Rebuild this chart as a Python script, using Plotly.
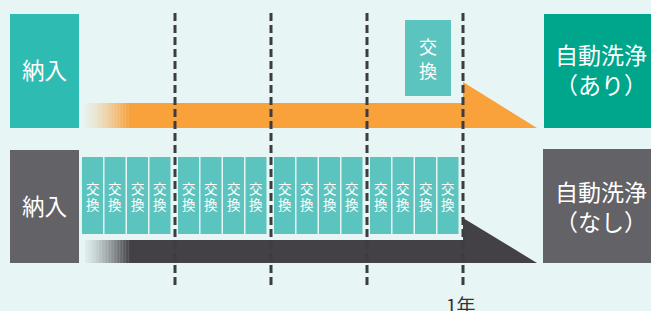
import plotly.graph_objects as go

# ---- data ----
guide_months = [3, 6, 9, 12]            # dashed guide lines (quarters)
guide_labels = ["", "", "", "1年"]
swaps_per_quarter_without = [4, 4, 4, 4]   # filter swaps without auto-clean
swap_month_with = [12]                   # single swap at 1 year with auto-clean
start_label = "納入"
swap_label = ["交", "換"]
row_labels = ["自動洗浄<br>（あり）", "自動洗浄<br>（なし）"]

# ---- style ----
BG = "#E7F5F5"
TEAL = "#2EBCB2"
GREEN = "#00A68B"
SWAP = "#5CC4BE"
ORANGE = "#F9A13A"
GRAY = "#636266"
DARK = "#434146"
LINE = "#3C3C41"
FONT = "Noto Sans CJK JP"

PX0, PXM = 79, 32.0   # pixel of month 0, pixels per month
def mx(px):
    return (px - PX0) / PXM

shapes = []
ann = []

def rect(x0, x1, y0, y1, color, layer="above"):
    shapes.append(dict(type="rect", xref="x", yref="y", x0=x0, x1=x1, y0=y0, y1=y1,
                       fillcolor=color, line=dict(width=0), layer=layer))

def text(x, y, t, size, color="white"):
    ann.append(dict(x=x, y=y, xref="x", yref="y", text=t, showarrow=False,
                    font=dict(family=FONT, size=size, color=color),
                    xanchor="center", yanchor="middle", borderpad=0))

def hexrgb(h):
    h = h.lstrip("#")
    return tuple(int(h[i:i + 2], 16) for i in (0, 2, 4))

def mix(a, b, t):
    ca, cb = hexrgb(a), hexrgb(b)
    return "rgb(%d,%d,%d)" % tuple(round(ca[i] + (cb[i] - ca[i]) * t) for i in range(3))

def bar(y0, y1, y_tri, color):
    end = guide_months[-1]
    g0, g1 = 85, 130
    n = 30
    for i in range(n):
        a = g0 + (g1 - g0) * i / n
        b = g0 + (g1 - g0) * (i + 1) / n + 0.3
        t = ((i + 0.5) / n) ** 1.3
        rect(mx(a), mx(b), y0, y1, mix(BG, color, 0.05 + 0.95 * t))
    rect(mx(g1), end, y0, y1, color)
    tip = mx(537)
    shapes.append(dict(type="path", xref="x", yref="y",
                       path=f"M {end},{y_tri} L {tip},{y1} L {end},{y1} Z",
                       fillcolor=color, line=dict(width=0)))

# top row (with auto-clean)
rect(mx(10), 0, 14, 128, TEAL)
text(mx(44.5), 69, start_label, 22.5)
bar(103, 128, 82, ORANGE)
for m in swap_month_with:
    x0, x1 = m - mx(463) + mx(405), m - mx(463) + mx(451)
    rect(x0, x1, 20, 96, SWAP)
    text((x0 + x1) / 2, 46, swap_label[0], 18)
    text((x0 + x1) / 2, 70, swap_label[1], 18)
rect(mx(544), mx(660), 14, 128, GREEN)
text(mx(601), 69, row_labels[0], 23)

# bottom row (without auto-clean)
rect(mx(10), 0, 150, 263, GRAY)
text(mx(44.5), 205, start_label, 22.5)
bar(240, 263, 218, DARK)
step = mx(PX0 + 22.5) - mx(PX0)
w = 21 / PXM
for qi, cnt in enumerate(swaps_per_quarter_without):
    qstart = guide_months[qi] - 3
    for k in range(cnt):
        x0 = qstart + mx(82) + k * step
        rect(x0, x0 + w, 157, 234, SWAP)
        text(x0 + w / 2, 188, swap_label[0], 13.5)
        text(x0 + w / 2, 204, swap_label[1], 13.5)
rect(mx(543), mx(660), 149, 263, GRAY)
text(mx(601), 206, row_labels[1], 23)

# dashed guides
for m, lab in zip(guide_months, guide_labels):
    shapes.append(dict(type="line", xref="x", yref="y", x0=m, x1=m, y0=13, y1=287,
                       line=dict(color=LINE, width=3, dash="8px,4px")))
    if lab:
        text(m - 0.06, 304, lab, 19, "#333333")

fig = go.Figure()
fig.add_trace(go.Scatter(x=[0], y=[0], mode="markers", marker=dict(opacity=0), hoverinfo="skip"))
fig.update_layout(
    width=651, height=311, margin=dict(l=0, r=0, t=0, b=0),
    paper_bgcolor=BG, plot_bgcolor=BG, showlegend=False,
    xaxis=dict(range=[mx(0), mx(651)], visible=False, fixedrange=True),
    yaxis=dict(range=[311, 0], visible=False, fixedrange=True),
    shapes=shapes, annotations=ann,
)
fig.write_html("out.html", config={"displayModeBar": False},
               post_script="document.body.style.margin='0';document.body.style.overflow='hidden';")
